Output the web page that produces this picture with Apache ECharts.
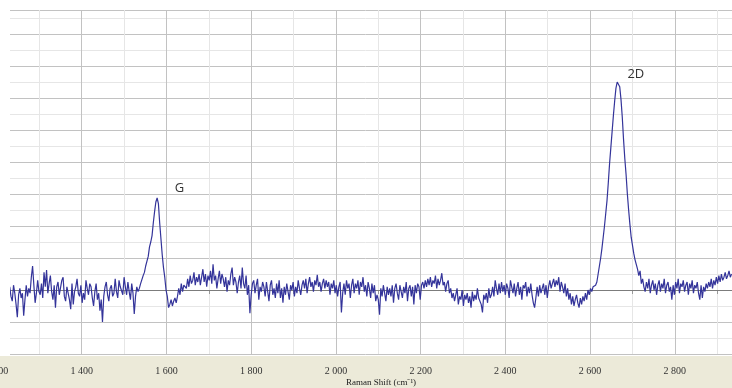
<!DOCTYPE html>
<html>
<head>
<meta charset="utf-8">
<script src="https://cdn.jsdelivr.net/npm/echarts@6/dist/echarts.min.js"></script>
<style>
html,body{margin:0;padding:0;background:#fff;}
#chart{width:732px;height:388px;}
</style>
</head>
<body>
<div id="chart"></div>
<script>
// Raman shift (cm^-1)
const shift = [
1230,1233,1236,1239,1242,1245,1248,1251,1254,1257,
1260,1263,1266,1269,1272,1275,1278,1281,1284,1287,
1290,1293,1296,1299,1302,1305,1308,1311,1314,1317,
1320,1323,1326,1329,1332,1335,1338,1341,1344,1347,
1350,1353,1356,1359,1362,1365,1368,1371,1374,1377,
1380,1383,1386,1389,1392,1395,1398,1401,1404,1407,
1410,1413,1416,1419,1422,1425,1428,1431,1434,1437,
1440,1443,1446,1449,1452,1455,1458,1461,1464,1467,
1470,1473,1476,1479,1482,1485,1488,1491,1494,1497,
1500,1503,1506,1509,1512,1515,1518,1521,1524,1527,
1530,1533,1536,1539,1542,1545,1548,1551,1554,1557,
1560,1563,1566,1569,1572,1575,1578,1581,1584,1587,
1590,1593,1596,1599,1602,1605,1608,1611,1614,1617,
1620,1623,1626,1629,1632,1635,1638,1641,1644,1647,
1650,1653,1656,1659,1662,1665,1668,1671,1674,1677,
1680,1683,1686,1689,1692,1695,1698,1701,1704,1707,
1710,1713,1716,1719,1722,1725,1728,1731,1734,1737,
1740,1743,1746,1749,1752,1755,1758,1761,1764,1767,
1770,1773,1776,1779,1782,1785,1788,1791,1794,1797,
1800,1803,1806,1809,1812,1815,1818,1821,1824,1827,
1830,1833,1836,1839,1842,1845,1848,1851,1854,1857,
1860,1863,1866,1869,1872,1875,1878,1881,1884,1887,
1890,1893,1896,1899,1902,1905,1908,1911,1914,1917,
1920,1923,1926,1929,1932,1935,1938,1941,1944,1947,
1950,1953,1956,1959,1962,1965,1968,1971,1974,1977,
1980,1983,1986,1989,1992,1995,1998,2001,2004,2007,
2010,2013,2016,2019,2022,2025,2028,2031,2034,2037,
2040,2043,2046,2049,2052,2055,2058,2061,2064,2067,
2070,2073,2076,2079,2082,2085,2088,2091,2094,2097,
2100,2103,2106,2109,2112,2115,2118,2121,2124,2127,
2130,2133,2136,2139,2142,2145,2148,2151,2154,2157,
2160,2163,2166,2169,2172,2175,2178,2181,2184,2187,
2190,2193,2196,2199,2202,2205,2208,2211,2214,2217,
2220,2223,2226,2229,2232,2235,2238,2241,2244,2247,
2250,2253,2256,2259,2262,2265,2268,2271,2274,2277,
2280,2283,2286,2289,2292,2295,2298,2301,2304,2307,
2310,2313,2316,2319,2322,2325,2328,2331,2334,2337,
2340,2343,2346,2349,2352,2355,2358,2361,2364,2367,
2370,2373,2376,2379,2382,2385,2388,2391,2394,2397,
2400,2403,2406,2409,2412,2415,2418,2421,2424,2427,
2430,2433,2436,2439,2442,2445,2448,2451,2454,2457,
2460,2463,2466,2469,2472,2475,2478,2481,2484,2487,
2490,2493,2496,2499,2502,2505,2508,2511,2514,2517,
2520,2523,2526,2529,2532,2535,2538,2541,2544,2547,
2550,2553,2556,2559,2562,2565,2568,2571,2574,2577,
2580,2583,2586,2589,2592,2595,2598,2601,2604,2607,
2610,2613,2616,2619,2622,2625,2628,2631,2634,2637,
2640,2643,2646,2649,2652,2655,2658,2661,2664,2667,
2670,2673,2676,2679,2682,2685,2688,2691,2694,2697,
2700,2703,2706,2709,2712,2715,2718,2721,2724,2727,
2730,2733,2736,2739,2742,2745,2748,2751,2754,2757,
2760,2763,2766,2769,2772,2775,2778,2781,2784,2787,
2790,2793,2796,2799,2802,2805,2808,2811,2814,2817,
2820,2823,2826,2829,2832,2835,2838,2841,2844,2847,
2850,2853,2856,2859,2862,2865,2868,2871,2874,2877,
2880,2883,2886,2889,2892,2895,2898,2901,2904,2907,
2910,2913,2916,2919,2922,2925,2928,2931,2934
];
// Intensity (arbitrary units, baseline at 0)
const intensity = [
20,-40,-70,30,-20,-90,-170,-30,10,-50,
-20,-160,-60,30,-40,10,-20,80,150,30,
-80,-20,60,-10,-30,40,-50,110,20,125,
-20,40,90,-10,-60,30,-110,20,50,-30,
-20,60,80,-40,-70,20,10,-60,-120,40,
-90,-10,20,70,-20,-40,30,-80,-20,-60,
60,10,-30,40,20,-50,-100,-10,40,-60,
-20,-130,-60,-200,-40,20,50,-30,-70,10,
30,-40,-20,70,-10,-50,60,20,10,-30,
80,20,-30,50,-10,-60,40,-20,-150,-40,
20,-10,10,40,30,90,110,150,180,210,
270,300,340,420,490,550,575,540,420,320,
220,140,80,0,-40,-110,-90,-60,-100,-70,
-50,-80,-40,10,-30,40,-10,30,40,10,
70,20,90,40,60,110,30,80,50,100,
30,80,130,50,100,20,90,60,120,40,
160,60,90,10,70,120,40,100,70,20,
80,-10,60,30,100,140,30,80,50,-20,
50,90,10,140,40,10,90,-30,30,-145,
-30,40,60,-20,30,70,-60,20,-10,50,
20,-40,50,-10,-70,30,60,-30,10,-50,
40,-20,60,-50,10,-80,20,-30,40,-10,
-60,30,0,50,-40,20,-20,60,10,-30,
30,60,10,70,-20,40,80,20,50,-10,
60,30,95,20,50,-10,40,70,10,60,
20,50,-30,40,10,60,-20,30,-40,20,
50,-140,-20,40,-30,60,10,40,-50,30,
70,-20,40,10,60,-30,50,20,80,-10,
30,-40,50,10,-50,40,-20,30,-70,-30,
-60,-155,10,-40,30,40,-70,20,-30,10,
-40,30,-80,10,40,-20,-60,30,20,-50,
20,-20,50,-70,10,30,-40,20,-90,30,
-20,40,20,-60,30,50,10,60,20,70,
30,80,20,60,40,90,10,70,30,60,
105,30,50,-10,40,60,-20,10,-50,-20,
-70,-30,10,-90,-40,-60,0,-100,-30,-60,
-20,-80,-40,-110,-10,-70,-30,-60,10,-50,
-40,-90,-140,-30,-60,-20,-80,10,-50,-30,
20,-40,60,10,-30,40,-20,50,-10,30,
-30,40,10,-50,60,20,-20,40,-40,10,
50,-30,20,-60,30,10,50,-40,20,-20,
40,-30,-80,-110,-50,20,-40,30,-20,10,
40,-30,30,-50,20,60,10,40,70,20,
60,30,80,-10,50,20,-20,40,-40,10,
-60,-20,-90,-40,-100,-60,-30,-80,-110,-50,
-90,-40,-70,-20,-60,0,-30,10,-10,20,
20,30,50,100,150,200,260,330,400,480,
560,670,790,890,990,1090,1180,1260,1300,1305,
1270,1190,1080,940,820,720,600,500,410,330,
280,230,190,160,130,90,120,40,70,20,
-10,50,10,70,-20,30,60,0,40,-30,
30,60,-10,40,10,70,-20,30,50,-10,
20,-60,30,-30,50,10,70,-20,40,20,
60,-10,30,50,-30,40,10,60,-20,30,
10,50,-20,-60,30,-50,20,-10,40,10,
50,20,70,10,60,30,80,40,90,50,
100,60,80,110,70,90,120,80,100
];
const peakLabels = [
  {name: 'G', shift: 1631, value: 637},
  {name: '2D', shift: 2708, value: 1350}
];
const xTickLabels = [1200,1400,1600,1800,2000,2200,2400,2600,2800];
const xAxisTitle = 'Raman Shift (cm\u207B\u00B9)';

const chart = echarts.init(document.getElementById('chart'), null, {renderer: 'canvas'});
const seriesData = shift.map((s, i) => [s, intensity[i]]);
const majorC = '#c2c2c2', minorC = '#e6e6e6';

chart.setOption({
  animation: false,
  backgroundColor: '#ffffff',
  grid: {left: -3, right: 0, top: 10, bottom: 34, containLabel: false, outerBoundsMode: 'none'},
  xAxis: {
    type: 'value', min: 1200, max: 2935, interval: 100,
    offset: 6,
    axisLine: {show: false},
    axisTick: {show: true, length: 4, lineStyle: {color: '#999', width: 1}},
    axisLabel: {
      show: true, margin: 6, color: '#333', fontFamily: 'Liberation Serif', fontSize: 10,
      showMaxLabel: false, hideOverlap: false,
      formatter: v => xTickLabels.indexOf(v) >= 0 ? String(v).replace(/^(\d)(\d{3})$/, '$1 $2') : ''
    },
    splitLine: {show: true, lineStyle: {color: [majorC, minorC], width: 1}}
  },
  yAxis: {
    type: 'value', min: -400, max: 1750, interval: 100,
    axisLine: {show: false}, axisTick: {show: false}, axisLabel: {show: false},
    splitLine: {show: true, lineStyle: {color: [majorC, minorC], width: 1}}
  },
  graphic: [
    {type: 'rect', z: -10, shape: {x: 0, y: 356, width: 732, height: 32}, style: {fill: '#ecead9'}},
    {type: 'rect', z: 100, shape: {x: 0, y: 0, width: 10, height: 355}, style: {fill: '#ffffff'}},
    {type: 'text', z: 100, x: 381, y: 383, style: {text: xAxisTitle, fill: '#222', font: '9px "Liberation Serif"', textAlign: 'center', textVerticalAlign: 'middle'}}
  ],
  series: [{
    type: 'line', data: seriesData, showSymbol: false, symbol: 'none',
    lineStyle: {color: '#34349a', width: 1.2}, z: 5,
    markLine: {
      silent: true, symbol: ['none', 'none'], label: {show: false},
      lineStyle: {color: '#7c7c7c', width: 1, type: 'solid'},
      data: [{yAxis: 0}]
    },
    markPoint: {
      silent: true, symbol: 'circle', symbolSize: 1,
      itemStyle: {color: 'rgba(0,0,0,0)'},
      label: {show: true, position: 'inside', formatter: '{b}', color: '#333', fontFamily: 'Open Sans', fontSize: 13},
      data: peakLabels.map(p => ({name: p.name, coord: [p.shift, p.value]}))
    }
  }]
});
</script>
</body>
</html>
